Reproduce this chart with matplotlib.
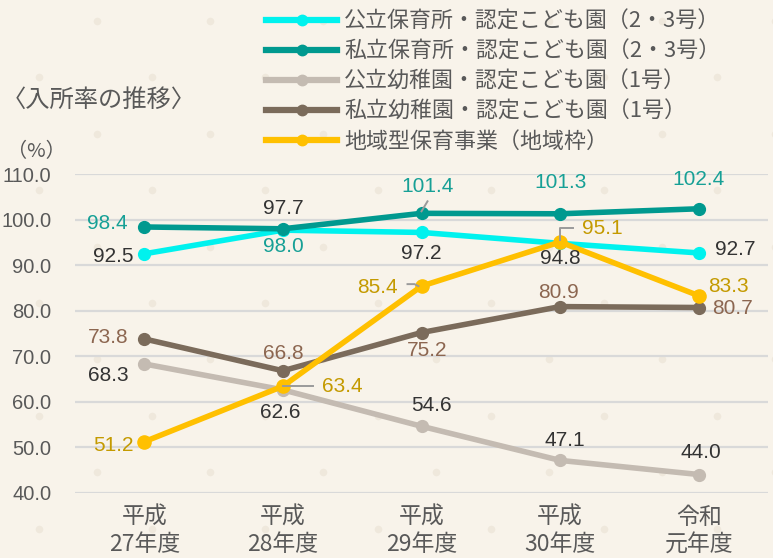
import matplotlib
matplotlib.use('Agg')
import matplotlib.pyplot as plt
import numpy as np
from matplotlib.lines import Line2D

W, H, DPI = 773, 558, 100

# ---------------- data ----------------
categories = ['平成\n27年度', '平成\n28年度', '平成\n29年度', '平成\n30年度', '令和\n元年度']
series_names = ['公立保育所・認定こども園（2・3号）',
                '私立保育所・認定こども園（2・3号）',
                '公立幼稚園・認定こども園（1号）',
                '私立幼稚園・認定こども園（1号）',
                '地域型保育事業（地域枠）']
public_nursery = [92.5, 97.7, 97.2, 94.8, 92.7]
private_nursery = [98.4, 98.0, 101.4, 101.3, 102.4]
public_kinder = [68.3, 62.6, 54.6, 47.1, 44.0]
private_kinder = [73.8, 66.8, 75.2, 80.9, 80.7]
community = [51.2, 63.4, 85.4, 95.1, 83.3]
yticks = [40, 50, 60, 70, 80, 90, 100, 110]
ytick_labels = ['40.0', '50.0', '60.0', '70.0', '80.0', '90.0', '100.0', '110.0']

# ---------------- styles ----------------
JP = ['Noto Sans CJK JP', 'DejaVu Sans']
NUM = ['Liberation Sans', 'Noto Sans CJK JP']
BG = '#F8F3EA'
line_colors = ['#00F2EE', '#00998F', '#C4BBB2', '#7B6B5B', '#FFC000']
label_colors = ['#333333', '#17A096', '#333333', '#8C6650', '#C49A00']
zorders = [4, 5, 2, 3, 6]

# label placement: (ha, dx, dy) in pixels (dy up)
placements = [
    [('right', -11, -3), ('center', 0, 22), ('center', 0, -21), ('center', 0, -15), ('left', 16, 3)],
    [('right', -17, 3), ('center', 0, -18), ('center', 6, 27), ('center', 0, 31), ('center', 0, 29)],
    [('right', -16, -12), ('center', -3, -23), ('center', 10, 21), ('center', 5, 20), ('center', 2, 22)],
    [('right', -16, 1), ('center', 0, 17), ('center', 6, -18), ('center', -2, 14), ('left', 13, -1)],
    [('right', -11, -4), ('left', 39, 0), ('right', -24, -1), ('left', 22, 13), ('left', 9, 9)],
]
# leader lines: (series, index, list of pixel offsets)
leaders = [
    (1, 2, [(0, 2), (6, 12)]),
    (4, 1, [(0, 0), (30, 0)]),
    (4, 2, [(-3, 0), (-7, 2), (-14, 2)]),
    (4, 3, [(0, 2), (0, 14), (13, 14)]),
]

fig = plt.figure(figsize=(W / DPI, H / DPI), dpi=DPI, facecolor=BG)

# decorative dot background
bg = fig.add_axes([0, 0, 1, 1], zorder=-5)
bg.set_xlim(0, W)
bg.set_ylim(H, 0)
bg.axis('off')
dx_list, dy_list = [], []
for k, yy in enumerate(np.arange(21, H + 20, 56.4)):
    x0 = 97 if k % 2 == 0 else 39
    for xx in np.arange(x0, W + 20, 113):
        dx_list.append(xx)
        dy_list.append(yy)
bg.scatter(dx_list, dy_list, s=30, color='#EFE8DC', linewidths=0)

# main axes
left, right = 75 / W, 768 / W
bottom, top = 1 - 492.7 / H, 1 - 174.2 / H
ax = fig.add_axes([left, bottom, right - left, top - bottom])
ax.set_facecolor('none')
ax.set_xlim(-0.5, 4.5)
ax.set_ylim(40, 110)
for s in ax.spines.values():
    s.set_visible(False)
ax.set_yticks(yticks)
ax.set_yticklabels(ytick_labels, fontfamily=NUM, fontsize=14.5, color='#595959')
ax.set_xticks(range(len(categories)))
ax.set_xticklabels(categories, fontfamily=JP, fontsize=16.5, color='#595959', linespacing=1.25)
ax.tick_params(axis='y', length=0, pad=17)
ax.tick_params(axis='x', length=0, pad=9.5)
ax.yaxis.grid(True, color='#D9D9D9', lw=1.6)
ax.set_axisbelow(True)

all_series = [public_nursery, private_nursery, public_kinder, private_kinder, community]
x = np.arange(len(categories))
handles = []
for i, vals in enumerate(all_series):
    ms = 9.5 if i == 4 else 8.5
    ax.plot(x, vals, color=line_colors[i], lw=4.0, marker='o', ms=ms,
            zorder=zorders[i], clip_on=False, solid_capstyle='round')
    handles.append(Line2D([], [], color=line_colors[i], lw=4.5, marker='o', ms=7.5))
    for j, v in enumerate(vals):
        ha, ddx, ddy = placements[i][j]
        ax.annotate(f'{v:.1f}', xy=(x[j], v), xytext=(ddx, ddy), textcoords='offset pixels',
                    ha=ha, va='center', fontsize=15, fontfamily=NUM,
                    color=label_colors[i], zorder=10)

for si, j, offs in leaders:
    v = all_series[si][j]
    px, py = ax.transData.transform((x[j], v))
    xs = [px + o[0] for o in offs]
    ys = [py + o[1] for o in offs]
    ax.add_line(Line2D(xs, ys, transform=None, color='#9A9A9A', lw=1.4, zorder=9))

LEG_FS = 15.8
leg = ax.legend(handles, series_names, loc='upper left',
                bbox_to_anchor=(266 / W, 1 - 11 / H), bbox_transform=fig.transFigure,
                frameon=False, borderpad=0, borderaxespad=0, handlelength=3.25,
                handletextpad=0.32, labelspacing=0.36, numpoints=1,
                prop={'family': JP, 'size': LEG_FS})
for t in leg.get_texts():
    t.set_color('#595959')

fig.text(2 / W, 1 - 100 / H, '〈入所率の推移〉', fontsize=17.5, fontfamily=JP,
         color='#595959', va='center', ha='left')
fig.text(36 / W, 1 - 152 / H, '（%）', fontsize=14.5, fontfamily=JP,
         color='#595959', va='center', ha='center')

fig.savefig('out.png', dpi=DPI, facecolor=BG)
